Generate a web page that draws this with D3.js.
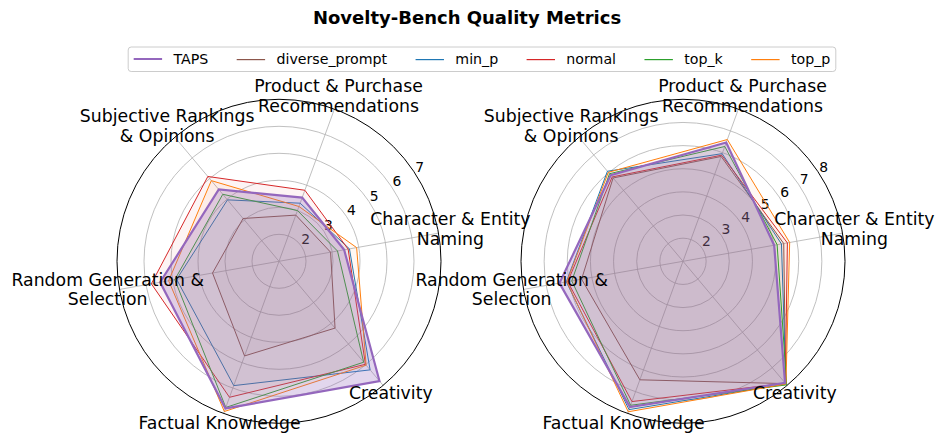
<!DOCTYPE html>
<html>
<head>
<meta charset="utf-8">
<script src="https://cdn.jsdelivr.net/npm/d3@7"></script>
<style>
  body { margin: 0; background: #fff; }
  text { font-family: "DejaVu Sans", sans-serif; }
</style>
</head>
<body>
<svg id="chart"></svg>
<script>
// categories and series
const categories = [
  "Character & Entity\nNaming",
  "Product & Purchase\nRecommendations",
  "Subjective Rankings\n& Opinions",
  "Random Generation &\nSelection",
  "Factual Knowledge",
  "Creativity"
];
const methods = ["TAPS", "diverse_prompt", "min_p", "normal", "top_k", "top_p"];
const methodColors = ["#9467bd", "#8c564b", "#1f77b4", "#d62728", "#2ca02c", "#ff7f0e"];

// left panel values
const leftTAPS    = [3.45, 3.51, 4.47, 5.47, 6.80, 6.79];
const leftDiverse = [2.94, 2.82, 3.07, 3.50, 4.73, 4.23];
const leftMinP    = [3.65, 3.29, 3.97, 4.85, 5.90, 6.25];
const leftNormal  = [3.60, 3.80, 5.10, 5.80, 6.36, 5.98];
const leftTopK    = [3.20, 3.00, 4.24, 4.92, 6.76, 5.88];
const leftTopP    = [3.92, 3.16, 4.90, 5.15, 6.92, 6.02];
const leftTicks = [2, 3, 4, 5, 6, 7];

// right panel values
const rightTAPS    = [5.00, 6.46, 5.86, 6.42, 7.70, 7.86];
const rightDiverse = [5.42, 5.82, 5.70, 5.45, 6.45, 7.90];
const rightMinP    = [5.32, 5.95, 6.08, 6.12, 7.82, 7.92];
const rightNormal  = [5.58, 5.88, 5.76, 6.06, 7.45, 7.88];
const rightTopK    = [5.13, 6.28, 5.94, 5.88, 7.62, 7.97];
const rightTopP    = [5.68, 6.60, 6.02, 6.10, 7.92, 7.92];
const rightTicks = [2, 3, 4, 5, 6, 7, 8];

const width = 940, height = 434;
const svg = d3.select("#chart").attr("width", width).attr("height", height);

// title
svg.append("text")
  .attr("x", 467).attr("y", 24)
  .attr("text-anchor", "middle")
  .style("font-size", "18px").style("font-weight", "bold")
  .text("Novelty-Bench Quality Metrics");

const deg = Math.PI / 180;
const theta = i => (10 + 60 * i) * deg;   // counter-clockwise from east
const outerR = 162;

function drawRadar(cx, cy, series, ticks, rMax) {
  const r = d3.scaleLinear().domain([1, rMax]).range([0, outerR]);
  const g = svg.append("g").attr("transform", `translate(${cx},${cy})`);
  const px = (i, v) => [r(v) * Math.cos(theta(i)), -r(v) * Math.sin(theta(i))];

  // grid rings
  g.selectAll(".ring").data(ticks.filter(t => t < rMax)).enter().append("circle")
    .attr("r", d => r(d)).attr("fill", "none")
    .attr("stroke", "#b0b0b0").attr("stroke-width", 0.8);

  // spokes
  g.selectAll(".spoke").data(categories).enter().append("line")
    .attr("x1", 0).attr("y1", 0)
    .attr("x2", (d, i) => px(i, rMax)[0]).attr("y2", (d, i) => px(i, rMax)[1])
    .attr("stroke", "#b0b0b0").attr("stroke-width", 0.8);

  // radial tick labels
  const la = 32.5 * deg;
  g.selectAll(".rlab").data(ticks).enter().append("text")
    .attr("x", d => r(d) * Math.cos(la) + 4)
    .attr("y", d => -r(d) * Math.sin(la) - 7.5)
    .attr("text-anchor", "middle").attr("dominant-baseline", "central")
    .style("font-size", "13.9px").attr("fill", "#000")
    .text(d => d);

  const line = d3.lineRadial()
    .angle((d, i) => Math.PI / 2 - theta(i))
    .radius(d => r(d))
    .curve(d3.curveLinearClosed);

  // other methods first, TAPS on top
  const order = [1, 2, 3, 4, 5, 0];
  order.forEach(k => {
    const isTaps = k === 0;
    g.append("path").attr("d", line(series[k]))
      .attr("fill", methodColors[k]).attr("fill-opacity", isTaps ? 0.27 : 0.05)
      .attr("stroke", methodColors[k]).attr("stroke-width", isTaps ? 2.2 : 1)
      .attr("stroke-linejoin", "miter");
  });

  // outer circle
  g.append("circle").attr("r", outerR).attr("fill", "none")
    .attr("stroke", "#000").attr("stroke-width", 1);

  // category labels
  const labR = 174;
  categories.forEach((c, i) => {
    const lines = c.split("\n");
    const x = labR * Math.cos(theta(i)), y = -labR * Math.sin(theta(i)) - 2;
    const t = g.append("text").attr("text-anchor", "middle")
      .style("font-size", "17.3px");
    lines.forEach((ln, j) => {
      t.append("tspan").attr("x", x)
        .attr("y", y + (j - (lines.length - 1) / 2) * 19.5)
        .attr("dominant-baseline", "central")
        .text(ln);
    });
  });
}

drawRadar(279, 261.3, [leftTAPS, leftDiverse, leftMinP, leftNormal, leftTopK, leftTopP], leftTicks, 7);
drawRadar(683, 261.3, [rightTAPS, rightDiverse, rightMinP, rightNormal, rightTopK, rightTopP], rightTicks, 8);

// legend
const fs = 14.2;
const legend = svg.append("g");
const box = legend.append("rect")
  .attr("y", 47).attr("height", 24.5).attr("rx", 3)
  .attr("fill", "#fff").attr("fill-opacity", 0.8)
  .attr("stroke", "#cccccc").attr("stroke-width", 1);
const items = legend.selectAll(".item").data(methods).enter().append("g");
items.append("rect")
  .attr("x", 0).attr("width", 2 * fs)
  .attr("y", (d, i) => i === 0 ? 58 : 59)
  .attr("height", (d, i) => i === 0 ? 2 : 1.2)
  .attr("fill", (d, i) => methodColors[i]);
items.append("text")
  .attr("x", 2.8 * fs).attr("y", 59).attr("dominant-baseline", "central")
  .style("font-size", fs + "px").text(d => d);
const offsets = [];
let xPos = 0;
items.each(function() {
  const w = this.querySelector("text").getComputedTextLength();
  offsets.push(xPos);
  xPos += 2.8 * fs + w + 2 * fs;
});
const totalW = xPos - 2 * fs;
const startX = 482 - totalW / 2;
items.attr("transform", (d, i) => `translate(${startX + offsets[i]},0)`);
box.attr("x", startX - 5.5).attr("width", totalW + 11);
</script>
</body>
</html>
